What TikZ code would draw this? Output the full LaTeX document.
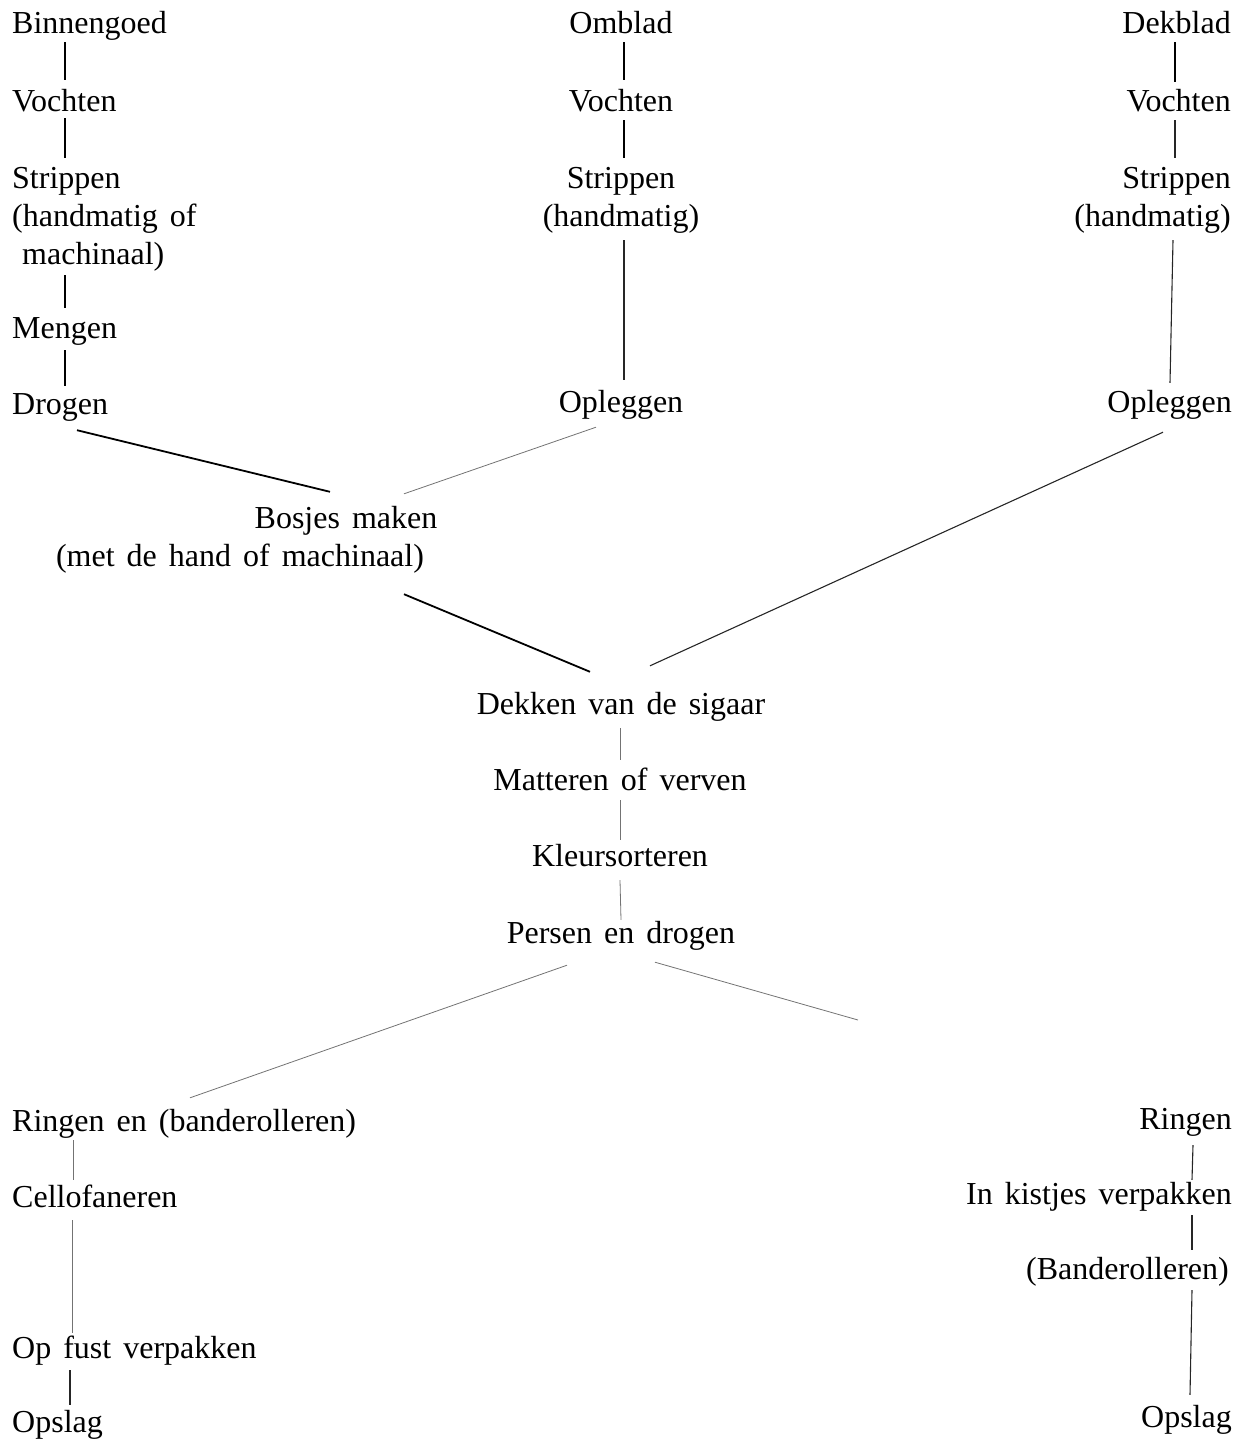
\documentclass[tikz,border=0pt]{standalone}
\usepackage{fontspec}
\setmainfont{Liberation Serif}
\newcommand{\lblfont}{\rmfamily\fontsize{32}{38}\selectfont\spaceskip=12pt plus 2pt minus 1pt\relax}
\begin{document}
\begin{tikzpicture}[x=1pt,y=-1pt,
  lbl/.style={inner sep=0pt, text height=22pt, text depth=7pt, font=\lblfont},
  lw/.style={lbl, anchor=base west},
  lc/.style={lbl, anchor=base},
  le/.style={lbl, anchor=base east},
  conn/.style={line width=1.8pt, black},
  connthin/.style={line width=1.1pt, black!85},
  connfaint/.style={line width=0.8pt, black!55}]
\useasboundingbox (0,0) rectangle (1247,1441);
% left column
\node[lw] (bin) at (12,33) {Binnengoed};
\node[lw] (voc1) at (12,111) {Vochten};
\node[lw] (str1) at (12,188) {Strippen};
\node[lw] (hm1) at (12,226) {(handmatig of};
\node[lw] (ma1) at (22,264) {machinaal)};
\node[lw] (men) at (12,338) {Mengen};
\node[lw] (dro) at (12,414) {Drogen};
% middle column
\node[lc] (omb) at (621,33) {Omblad};
\node[lc] (voc2) at (621,111) {Vochten};
\node[lc] (str2) at (621,188) {Strippen};
\node[lc] (hm2) at (621,226) {(handmatig)};
\node[lc] (opl2) at (621,412) {Opleggen};
% right column
\node[le] (dek) at (1231,33) {Dekblad};
\node[le] (voc3) at (1231,111) {Vochten};
\node[le] (str3) at (1231,188) {Strippen};
\node[le] (hm3) at (1231,226) {(handmatig)};
\node[le] (opl3) at (1232,412) {Opleggen};
% bosjes
\node[lc] (bos) at (346,528) {Bosjes maken};
\node[lc] (bos2) at (240,566) {(met de hand of machinaal)};
% centre
\node[lc] (dekk) at (621,714) {Dekken van de sigaar};
\node[lc] (mat) at (620,790) {Matteren of verven};
\node[lc] (kle) at (620,866) {Kleursorteren};
\node[lc] (per) at (621,943) {Persen en drogen};
\coordinate (free) at (858,1020);
% bottom left
\node[lw] (rin1) at (12,1131) {Ringen en (banderolleren)};
\node[lw] (cel) at (12,1207) {Cellofaneren};
\node[lw] (opf) at (12,1358) {Op fust verpakken};
\node[lw] (ops1) at (12,1432) {Opslag};
% bottom right
\node[le] (rin2) at (1232,1129) {Ringen};
\node[le] (kis) at (1232,1204) {In kistjes verpakken};
\node[le] (ban) at (1229,1279) {(Banderolleren)};
\node[le] (ops2) at (1232,1427) {Opslag};

% left column connectors
\draw[conn] ([xshift=53pt,yshift=-2pt]bin.south west) -- ([xshift=53pt,yshift=9pt]voc1.north west);
\draw[conn] ([xshift=53pt]voc1.south west) -- ([xshift=53pt,yshift=8pt]str1.north west);
\draw[conn] ([xshift=43pt,yshift=-4pt]ma1.south west) -- ([xshift=53pt,yshift=8pt]men.north west);
\draw[conn] ([xshift=53pt,yshift=-5pt]men.south west) -- ([xshift=53pt,yshift=6pt]dro.north west);
% middle column connectors
\draw[conn] ([xshift=3pt,yshift=-2pt]omb.south) -- ([xshift=3pt,yshift=9pt]voc2.north);
\draw[conn] ([xshift=3pt,yshift=-2pt]voc2.south) -- ([xshift=3pt,yshift=8pt]str2.north);
\draw[connthin] ([xshift=3pt,yshift=-7pt]hm2.south) -- ([xshift=3pt,yshift=10pt]opl2.north);
% right column connectors
\draw[conn] ([xshift=-56pt,yshift=-2pt]dek.south east) -- ([xshift=-56pt,yshift=7pt]voc3.north east);
\draw[connthin] ([xshift=-56pt,yshift=-2pt]voc3.south east) -- ([xshift=-56pt,yshift=8pt]str3.north east);
\draw[connthin] ([xshift=-58pt,yshift=-7pt]hm3.south east) -- ([xshift=-62pt,yshift=7pt]opl3.north east);
% into bosjes / dekken
\draw[conn] ([xshift=65pt,yshift=-9pt]dro.south west) -- ([xshift=-16pt,yshift=14pt]bos.north);
\draw[connfaint] ([xshift=-25pt,yshift=-8pt]opl2.south) -- ([xshift=58pt,yshift=12pt]bos.north);
\draw[connthin] ([xshift=-69pt,yshift=-13pt]opl3.south east) -- ([xshift=29pt,yshift=26pt]dekk.north);
\draw[conn] ([xshift=164pt,yshift=-21pt]bos2.south) -- ([xshift=-31pt,yshift=20pt]dekk.north);
% centre column
\draw[connfaint] ([xshift=-1pt,yshift=-7pt]dekk.south) -- ([yshift=8pt]mat.north);
\draw[connfaint] ([yshift=-3pt]mat.south) -- ([yshift=4pt]kle.north);
\draw[connfaint] ([yshift=-7pt]kle.south) -- ([yshift=1pt]per.north);
% persen branches
\draw[connfaint] ([xshift=-54pt,yshift=-15pt]per.south) -- ([xshift=178pt,yshift=11pt]rin1.north west);
\draw[connfaint] ([xshift=34pt,yshift=-12pt]per.south) -- (free);
% bottom left
\draw[connfaint] ([xshift=61pt,yshift=-2pt]rin1.south west) -- ([xshift=61pt,yshift=5pt]cel.north west);
\draw[connfaint] ([xshift=60pt,yshift=-6pt]cel.south west) -- ([xshift=60pt,yshift=3pt]opf.north west);
\draw[connthin] ([xshift=58pt,yshift=-5pt]opf.south west) -- ([xshift=58pt,yshift=5pt]ops1.north west);
% bottom right
\draw[connthin] ([xshift=-39pt,yshift=-9pt]rin2.south east) -- ([xshift=-40pt,yshift=2pt]kis.north east);
\draw[connthin] ([xshift=-40pt,yshift=-4pt]kis.south east) -- ([xshift=-37pt,yshift=7pt]ban.north east);
\draw[connthin] ([xshift=-37pt,yshift=-4pt]ban.south east) -- ([xshift=-42pt,yshift=10pt]ops2.north east);
\end{tikzpicture}
\end{document}
